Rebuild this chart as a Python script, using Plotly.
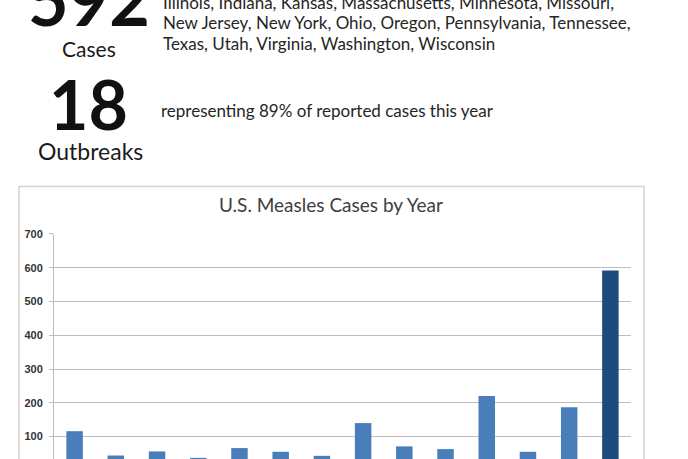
import plotly.graph_objects as go

W, H = 688, 459

years = ["2001", "2002", "2003", "2004", "2005", "2006", "2007",
         "2008", "2009", "2010", "2011", "2012", "2013", "2014"]
cases = [116, 44, 56, 37, 66, 55, 43, 140, 71, 63, 220, 55, 187, 592]
bar_colors = ["#4a7ebb"] * 13 + ["#1f4a7e"]
tick_vals = [100, 200, 300, 400, 500, 600, 700]

states_lines = [
    "Illinois, Indiana, Kansas, Massachusetts, Minnesota, Missouri,",
    "New Jersey, New York, Ohio, Oregon, Pennsylvania, Tennessee,",
    "Texas, Utah, Virginia, Washington, Wisconsin",
]


def px(x):
    return x / W


def py(y):
    return 1 - y / H


fig = go.Figure()
fig.add_trace(go.Bar(
    x=years, y=cases,
    marker=dict(color=bar_colors, line=dict(width=0)),
    hoverinfo="skip",
))

annotations = []
TXT = "#1a1a1a"
BODY_FONT = "Lato"

# Big numbers
annotations.append(dict(text="592", x=px(89), y=py(-7), xref="paper", yref="paper",
                        xanchor="center", yanchor="middle", showarrow=False,
                        font=dict(family="Lato", size=70, color="#111111", weight="bold")))
annotations.append(dict(text="Cases", x=px(89), y=py(43), xref="paper", yref="paper",
                        xanchor="center", yanchor="middle", showarrow=False,
                        font=dict(family=BODY_FONT, size=21, color=TXT)))
annotations.append(dict(text="18", x=px(88), y=py(99), xref="paper", yref="paper",
                        xanchor="center", yanchor="middle", showarrow=False,
                        font=dict(family="Lato", size=68, color="#111111", weight="bold")))
annotations.append(dict(text="Outbreaks", x=px(90), y=py(147), xref="paper", yref="paper",
                        xanchor="center", yanchor="middle", showarrow=False,
                        font=dict(family=BODY_FONT, size=23, color=TXT)))

for i, line in enumerate(states_lines):
    annotations.append(dict(text=line, x=px(161), y=py(-4 + 21 * i), xref="paper", yref="paper",
                            xanchor="left", yanchor="middle", showarrow=False,
                            font=dict(family=BODY_FONT, size=17, color="#262626")))

annotations.append(dict(text="representing 89% of reported cases this year", x=px(159), y=py(106),
                        xref="paper", yref="paper", xanchor="left", yanchor="middle",
                        showarrow=False, font=dict(family=BODY_FONT, size=17, color="#262626")))

# Chart title
annotations.append(dict(text="U.S. Measles Cases by Year", x=px(331), y=py(201),
                        xref="paper", yref="paper", xanchor="center", yanchor="middle",
                        showarrow=False, font=dict(family=BODY_FONT, size=19, color="#404040")))

fig.update_layout(
    width=W, height=H,
    margin=dict(l=0, r=0, t=0, b=0),
    paper_bgcolor="white", plot_bgcolor="white",
    showlegend=False,
    bargap=0.6,
    annotations=annotations,
    shapes=[dict(type="rect", xref="paper", yref="paper",
                 x0=px(19), x1=px(644), y0=py(470), y1=py(183),
                 line=dict(color="#d4d4d4", width=1.5), fillcolor="rgba(0,0,0,0)", layer="below")],
    xaxis=dict(domain=[px(54), px(631)], showticklabels=False, showgrid=False,
               zeroline=False, showline=False, fixedrange=True),
    yaxis=dict(domain=[0, py(231)], range=[(470.5 - 459) / 0.342, 700],
               tickvals=tick_vals, ticktext=[str(v) for v in tick_vals],
               showgrid=True, gridcolor="#bdbdbd", gridwidth=1,
               zeroline=False, showline=True, linecolor="#bdbdbd", linewidth=1,
               ticks="outside", ticklen=4, tickcolor="#bdbdbd",
               ticklabelstandoff=4,
               tickfont=dict(family="Liberation Sans", size=11, color="#333333", weight="bold"),
               fixedrange=True),
)

fig.write_html("out.html", config={"displayModeBar": False},
               post_script="document.body.style.margin='0';document.body.style.padding='0';"
                           "document.body.style.overflow='hidden';")
